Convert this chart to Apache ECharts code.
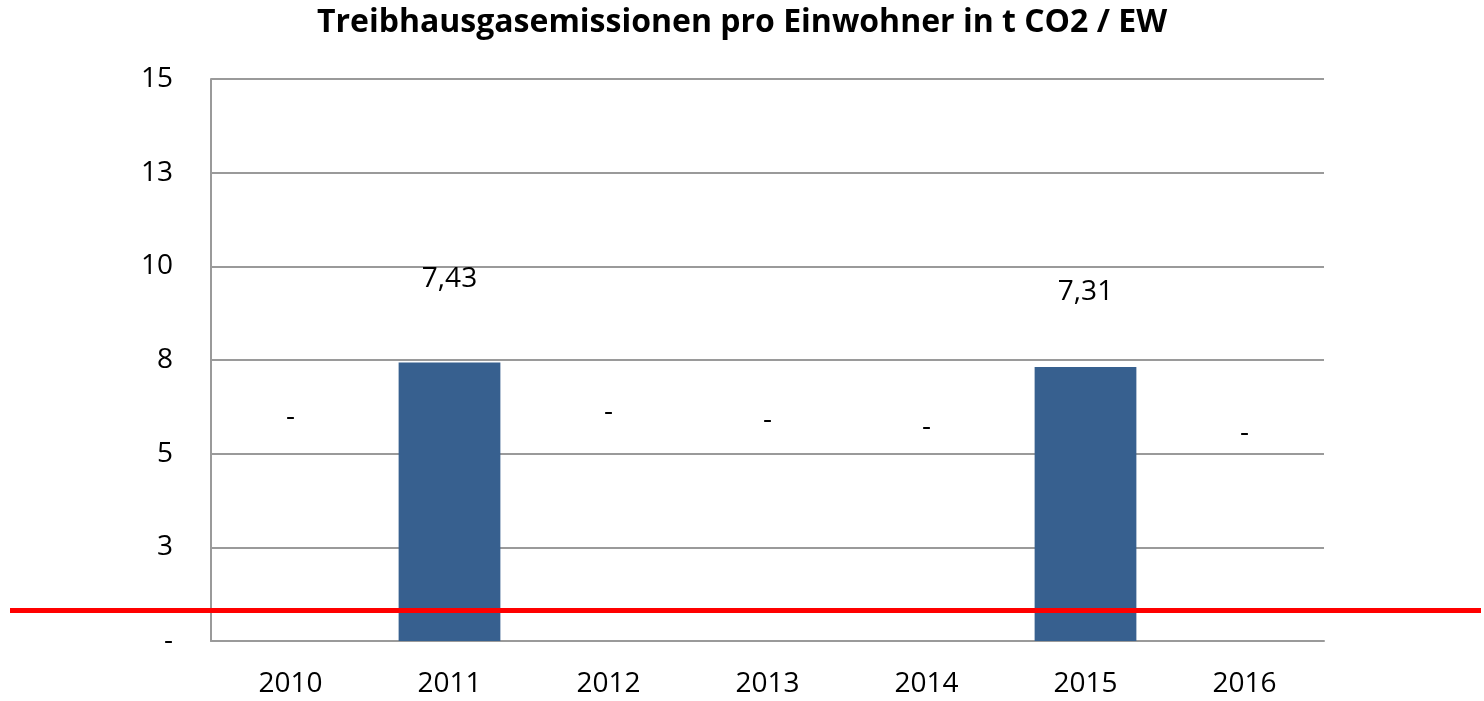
<!DOCTYPE html>
<html>
<head>
<meta charset="utf-8">
<script src="https://cdn.jsdelivr.net/npm/echarts@6/dist/echarts.min.js"></script>
<style>
html,body{margin:0;padding:0;background:#fff;}
#chart{width:1484px;height:701px;}
</style>
</head>
<body>
<div id="chart"></div>
<script>
var titleText = 'Treibhausgasemissionen pro Einwohner in t CO2 / EW';
var years = ['2010', '2011', '2012', '2013', '2014', '2015', '2016'];
var emissions = [0, 7.43, 0, 0, 0, 7.31, 0];
var labelHeights = [5.99, 9.66, 6.11, 5.90, 5.71, 9.31, 5.56];
var redLineValue = 0.83;
var yMin = 0, yMax = 15, yStep = 2.5;

var FONT = '"Open Sans", sans-serif';
var chart = echarts.init(document.getElementById('chart'));

function fmtVal(v) {
  return v ? v.toFixed(2).replace('.', ',') : '-';
}

chart.setOption({
  animation: false,
  backgroundColor: '#ffffff',
  title: {
    text: titleText,
    left: 'center',
    top: 2,
    textStyle: { fontFamily: FONT, fontWeight: 'bold', fontSize: 32, color: '#000' }
  },
  grid: [
    { left: 211, right: 160, top: 79, bottom: 60 },
    { left: 10, right: 3, top: 79, bottom: 60 }
  ],
  xAxis: [
    {
      type: 'category', gridIndex: 0, data: years,
      axisLine: { show: true, lineStyle: { color: '#9a9a9a', width: 2 } },
      axisTick: { show: false },
      axisLabel: { fontFamily: FONT, fontSize: 28, color: '#000', margin: 29 }
    },
    {
      type: 'value', gridIndex: 1, min: 0, max: 1, show: false
    }
  ],
  yAxis: [
    {
      type: 'value', gridIndex: 0, min: yMin, max: yMax, interval: yStep,
      axisLine: { show: true, lineStyle: { color: '#9a9a9a', width: 2 } },
      axisTick: { show: false },
      splitLine: { show: true, lineStyle: { color: '#9a9a9a', width: 2 } },
      axisLabel: {
        fontFamily: FONT, fontSize: 28, color: '#000', margin: 38,
        formatter: function (v) { return v === 0 ? '-' : String(Math.round(v)); }
      }
    },
    {
      type: 'value', gridIndex: 1, min: yMin, max: yMax, show: false
    }
  ],
  series: [
    {
      type: 'bar', xAxisIndex: 0, yAxisIndex: 0,
      data: emissions,
      barCategoryGap: '36%',
      itemStyle: { color: '#37608f' }
    },
    {
      type: 'scatter', xAxisIndex: 0, yAxisIndex: 0,
      data: labelHeights,
      symbolSize: 1,
      itemStyle: { color: 'rgba(0,0,0,0)' },
      silent: true,
      label: {
        show: true, position: 'inside', fontFamily: FONT, fontSize: 28,
        color: '#000000', opacity: 1, textBorderWidth: 0,
        formatter: function (p) { return fmtVal(emissions[p.dataIndex]); }
      }
    },
    {
      type: 'line', xAxisIndex: 1, yAxisIndex: 1,
      data: [],
      markLine: {
        silent: true, symbol: 'none',
        label: { show: false },
        lineStyle: { color: '#ff0000', width: 5, type: 'solid' },
        data: [{ yAxis: redLineValue }]
      }
    }
  ]
});
</script>
</body>
</html>
